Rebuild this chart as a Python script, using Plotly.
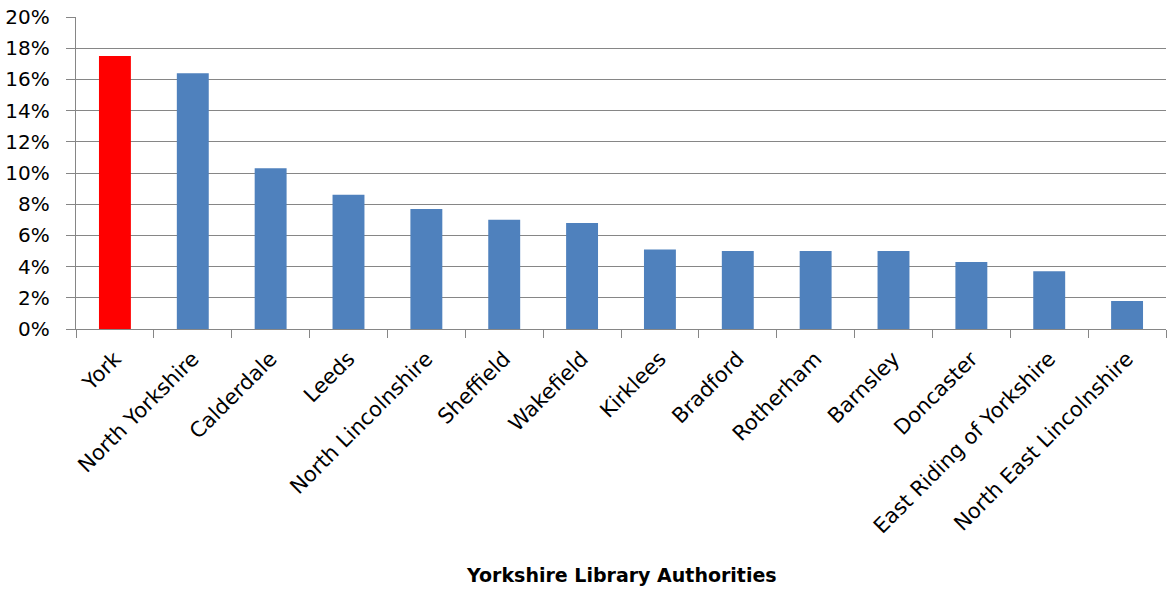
import plotly.graph_objects as go

# Yorkshire library authorities and their percentage values
authorities = [
    "York", "North Yorkshire", "Calderdale", "Leeds", "North Lincolnshire",
    "Sheffield", "Wakefield", "Kirklees", "Bradford", "Rotherham",
    "Barnsley", "Doncaster", "East Riding of Yorkshire", "North East Lincolnshire",
]
values = [17.5, 16.4, 10.3, 8.6, 7.7, 7.0, 6.8, 5.1, 5.0, 5.0, 5.0, 4.3, 3.7, 1.8]
highlight = "York"

y_ticks = list(range(0, 21, 2))
y_tick_labels = [f"{t}%" for t in y_ticks]

colors = ["#FF0000" if a == highlight else "#4F81BD" for a in authorities]

font_family = "'DejaVu Sans', sans-serif"

fig = go.Figure(
    go.Bar(
        x=authorities,
        y=values,
        marker=dict(color=colors, line=dict(width=0)),
        hoverinfo="x+y",
    )
)

fig.update_layout(
    width=1169,
    height=589,
    margin=dict(l=76, r=3, t=17, b=260),
    paper_bgcolor="white",
    plot_bgcolor="white",
    bargap=0.59,
    showlegend=False,
    font=dict(family=font_family, color="#000000", size=20),
)

fig.update_yaxes(
    range=[0, 20],
    tickvals=y_ticks,
    ticktext=y_tick_labels,
    showgrid=True,
    gridcolor="#868686",
    gridwidth=1.4,
    zeroline=False,
    showline=True,
    linecolor="#868686",
    linewidth=1.4,
    ticks="outside",
    ticklen=9,
    tickcolor="#868686",
    ticklabelstandoff=12,
    tickfont=dict(size=20, family=font_family),
)

fig.update_xaxes(
    tickangle=-45,
    ticks="outside",
    tickson="boundaries",
    ticklen=8,
    tickcolor="#868686",
    ticklabelstandoff=8,
    showline=True,
    linecolor="#868686",
    linewidth=1.4,
    tickfont=dict(size=21, family=font_family),
)

fig.add_annotation(
    text="<b>Yorkshire Library Authorities</b>",
    xref="paper", yref="paper",
    x=0.5, y=-0.788,
    xanchor="center", yanchor="middle",
    showarrow=False,
    font=dict(size=19, family=font_family, color="#000000"),
)

fig.write_html("out.html")
